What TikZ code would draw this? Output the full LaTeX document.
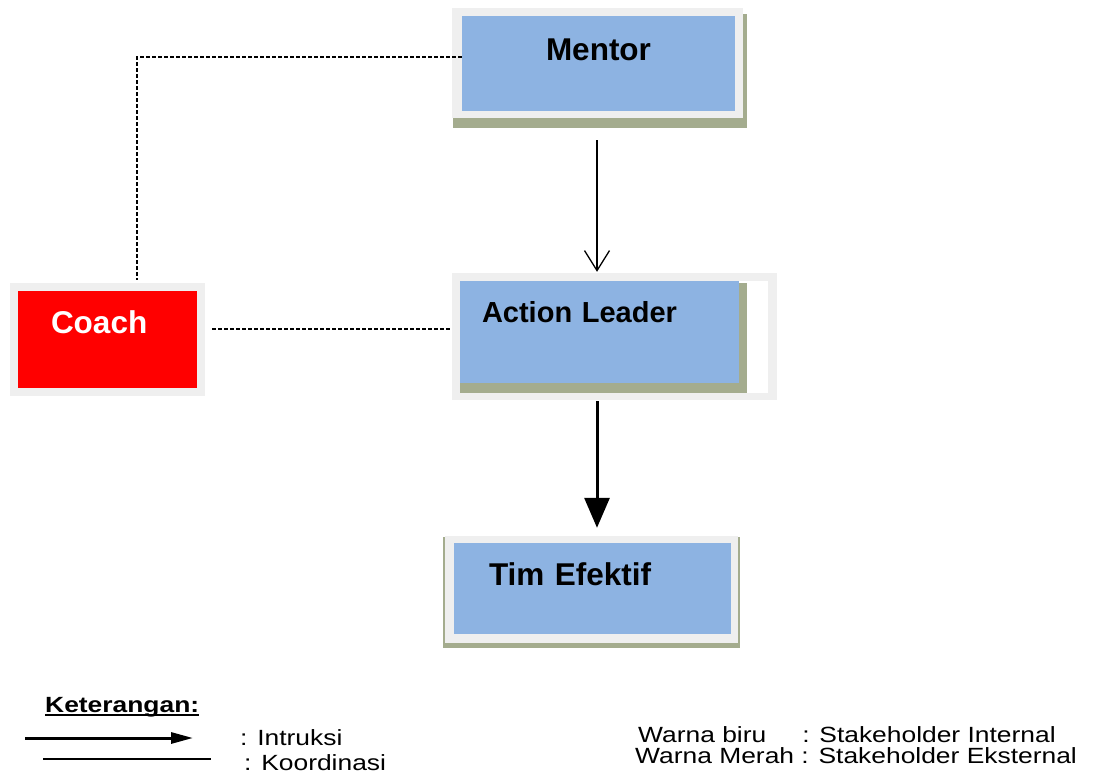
\documentclass[tikz,border=0pt]{standalone}
\usepackage{fontspec}
\setmainfont{Liberation Sans}
\newfontfamily\legendfont[FakeStretch=1.2]{Liberation Sans}
\usetikzlibrary{arrows.meta}
\definecolor{boxblue}{RGB}{141,179,226}
\definecolor{framegray}{RGB}{239,239,239}
\definecolor{shadowolive}{RGB}{164,172,142}
\definecolor{coachred}{RGB}{255,0,0}
\begin{document}
\begin{tikzpicture}[x=1pt,y=-1pt]
        \tikzstyle{internal}=[rectangle,fill=boxblue,inner sep=0pt,font=\fontsize{31.5}{36}\selectfont\bfseries]
        \tikzstyle{external}=[rectangle,fill=coachred,text=white,inner sep=0pt,font=\fontsize{31.5}{36}\selectfont\bfseries]
        \tikzstyle{frame}=[fill=framegray]
        \tikzstyle{shade}=[fill=shadowolive]
        \tikzstyle{instr}=[draw,line width=1.3pt,-{Straight Barb[length=20pt,width=25pt]}]
        \tikzstyle{instrbold}=[draw,line width=3pt,-{Triangle[length=30pt,width=25pt]}]
        \tikzstyle{koord}=[draw,line width=1.3pt,dash pattern=on 4pt off 2pt]
        \tikzstyle{legend}=[anchor=base west,inner sep=0pt,font=\legendfont\fontsize{22}{26}\selectfont]
       \useasboundingbox (0,0) rectangle (1093,778);
       % frames and shadows
       \fill[shade] (453,14) rectangle (747,128);
       \fill[frame] (452,8) rectangle (743,118);
       \fill[frame] (452,273) rectangle (777,400);
       \fill[white] (460,281) rectangle (768,393);
       \fill[shade] (460,283) rectangle (747,393);
       \fill[frame] (10,283) rectangle (205,396);
       \fill[shade] (443,537) rectangle (740,648);
       \fill[frame] (445,536) rectangle (738,643);

       \node[internal,minimum width=273pt,text height=45pt,text depth=50pt] (mentor) at (598.5,63.5) {Mentor};
       \node[internal,font=\fontsize{29}{34}\selectfont\bfseries,text width=235pt,inner xsep=22pt,align=left,text height=42pt,text depth=60pt] (leader) at (599.5,332) {Action Leader};
       \node[external,text width=113pt,inner xsep=33pt,align=left,text height=42pt,text depth=55pt] (coach) at (107.5,339.5) {Coach};
       \node[internal,text width=207pt,inner xsep=35pt,align=left,text height=42pt,text depth=49pt] (tim) at (592.5,588.5) {Tim Efektif};

       \draw[instr] ([xshift=-1.5pt,yshift=-29pt]mentor.south) -- ([xshift=-2.5pt,yshift=9pt]leader.north);
       \draw[instrbold] ([xshift=-2.5pt,yshift=-18pt]leader.south) -- ([xshift=4.5pt,yshift=15pt]tim.north);
       \draw[koord] ([yshift=6.5pt]mentor.west) -| ([xshift=29.5pt,yshift=11pt]coach.north);
       \draw[koord] ([xshift=15pt,yshift=10.5pt]coach.east) -- ([xshift=-8pt,yshift=3pt]leader.west);

       % keterangan
       \node[legend,font=\legendfont\fontsize{22}{26}\selectfont\bfseries] (ket) at (45,712) {Keterangan:};
       \draw[line width=2pt] ([yshift=-3pt]ket.base west) -- ([yshift=-3pt]ket.base east);
       \coordinate (instrA) at (25,738);
       \coordinate (instrB) at (193,738);
       \draw[line width=3pt,-{Triangle[length=22pt,width=11pt]}] (instrA) -- (instrB);
       \node[legend] (intruksi) at (240,745) {: Intruksi};
       \coordinate (koordA) at (43,759);
       \coordinate (koordB) at (211,759);
       \draw[line width=2pt] (koordA) -- (koordB);
       \node[legend] (koordinasi) at (244,770) {: Koordinasi};
       \node[legend] (biru) at (638,742) {Warna biru\hspace{36pt}: Stakeholder Internal};
       \node[legend] (merah) at (635,763) {Warna Merah : Stakeholder Eksternal};
\end{tikzpicture}
\end{document}
